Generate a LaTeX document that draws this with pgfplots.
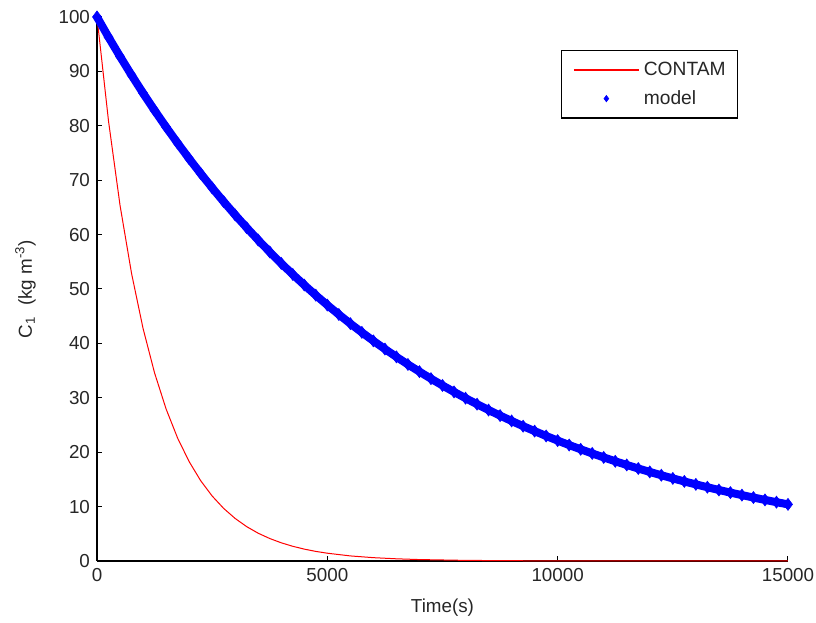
\documentclass[border=0pt]{standalone}
\usepackage{pgfplots}
\pgfplotsset{compat=1.18}
\usepackage{fontspec}
\setmainfont{Liberation Sans}
\begin{document}
\begin{tikzpicture}
\begin{axis}[
  name=ax,
  set layers=standard,
  scale only axis,
  width=345.5pt, height=272pt,
  xmin=0, xmax=15000, ymin=0, ymax=100,
  axis x line*=bottom, axis y line*=left,
  axis line style={black, line width=0.6pt},
  tick style={black, line width=0.5pt},
  tick align=inside,
  major tick length=2.5pt,
  xtick={0,5000,10000,15000},
  ytick={0,10,...,100},
  scaled x ticks=false,
  xticklabel style={/pgf/number format/1000 sep={}},
  /pgf/number format/assume math mode=true,
  tick label style={font=\fontsize{9.4}{11}\selectfont, text=black!85},
  label style={font=\fontsize{9.4}{11}\selectfont, text=black!85},
  xlabel={Time(s)},
  ylabel={C\textsubscript{1}\ \ (kg m\textsuperscript{-3})},
  xlabel style={yshift=-2pt},
  ylabel style={yshift=4.5pt},
  legend style={at={(0.928,0.939)}, anchor=north east, draw=black, line width=0.6pt,
    font=\fontsize{9.6}{11}\selectfont, inner xsep=6pt, inner ysep=5.5pt, row sep=6pt,
    nodes={inner sep=0pt, text=black!85}},
  legend cell align=left,
  clip=false,
]
\addplot[red, line width=0.5pt,
  legend image code/.code={\draw[red, line width=0.6pt] (0pt,0pt) -- (32.5pt,0pt); \path[draw=none] (35pt,0pt);}] coordinates {
(0,100) (250,80.86) (500,65.38) (750,52.86) (1000,42.74) (1250,34.56) (1500,27.94)
(1750,22.59) (2000,18.27) (2250,14.77) (2500,11.94) (2750,9.66) (3000,7.81)
(3250,6.31) (3500,5.10) (3750,4.13) (4000,3.34) (4250,2.70) (4500,2.18) (4750,1.76)
(5000,1.43) (5500,0.93) (6000,0.61) (6500,0.40) (7000,0.26) (8000,0.11) (9000,0.05)
(10000,0.02) (12000,0.004) (15000,0)
};
\addlegendentry{CONTAM}
\addplot[blue, line width=4pt, mark=diamond*, mark size=3pt, mark options={line width=0.3pt, fill=blue},
  legend image code/.code={\path[draw=none, fill=none] (0pt,0pt) -- (35pt,0pt); \draw[blue, fill=blue, line width=0.3pt] plot[mark=diamond*, mark size=1.6pt] coordinates {(16.25pt,0pt)};}] coordinates {
(0,100) (250,96.30) (500,92.74) (750,89.31) (1000,86.00) (1250,82.82) (1500,79.76)
(1750,76.81) (2000,73.96) (2250,71.23) (2500,68.59) (2750,66.05) (3000,63.61)
(3250,61.26) (3500,58.99) (3750,56.81) (4000,54.70) (4250,52.68) (4500,50.73)
(4750,48.85) (5000,47.05) (5250,45.31) (5500,43.63) (5750,42.02) (6000,40.46)
(6250,38.96) (6500,37.52) (6750,36.13) (7000,34.80) (7250,33.51) (7500,32.27)
(7750,31.08) (8000,29.93) (8250,28.82) (8500,27.75) (8750,26.73) (9000,25.74)
(9250,24.78) (9500,23.87) (9750,22.98) (10000,22.13) (10250,21.31) (10500,20.53)
(10750,19.77) (11000,19.04) (11250,18.33) (11500,17.65) (11750,17.00) (12000,16.37)
(12250,15.76) (12500,15.18) (12750,14.62) (13000,14.08) (13250,13.56) (13500,13.05)
(13750,12.57) (14000,12.11) (14250,11.66) (14500,11.23) (14750,10.81) (15000,10.41)
};
\addlegendentry{model}
\end{axis}
\pgfresetboundingbox
\path (ax.south west) ++(-48.5pt,-31pt) rectangle ([shift={(14pt,8.5pt)}]ax.north east);
\end{tikzpicture}
\end{document}
